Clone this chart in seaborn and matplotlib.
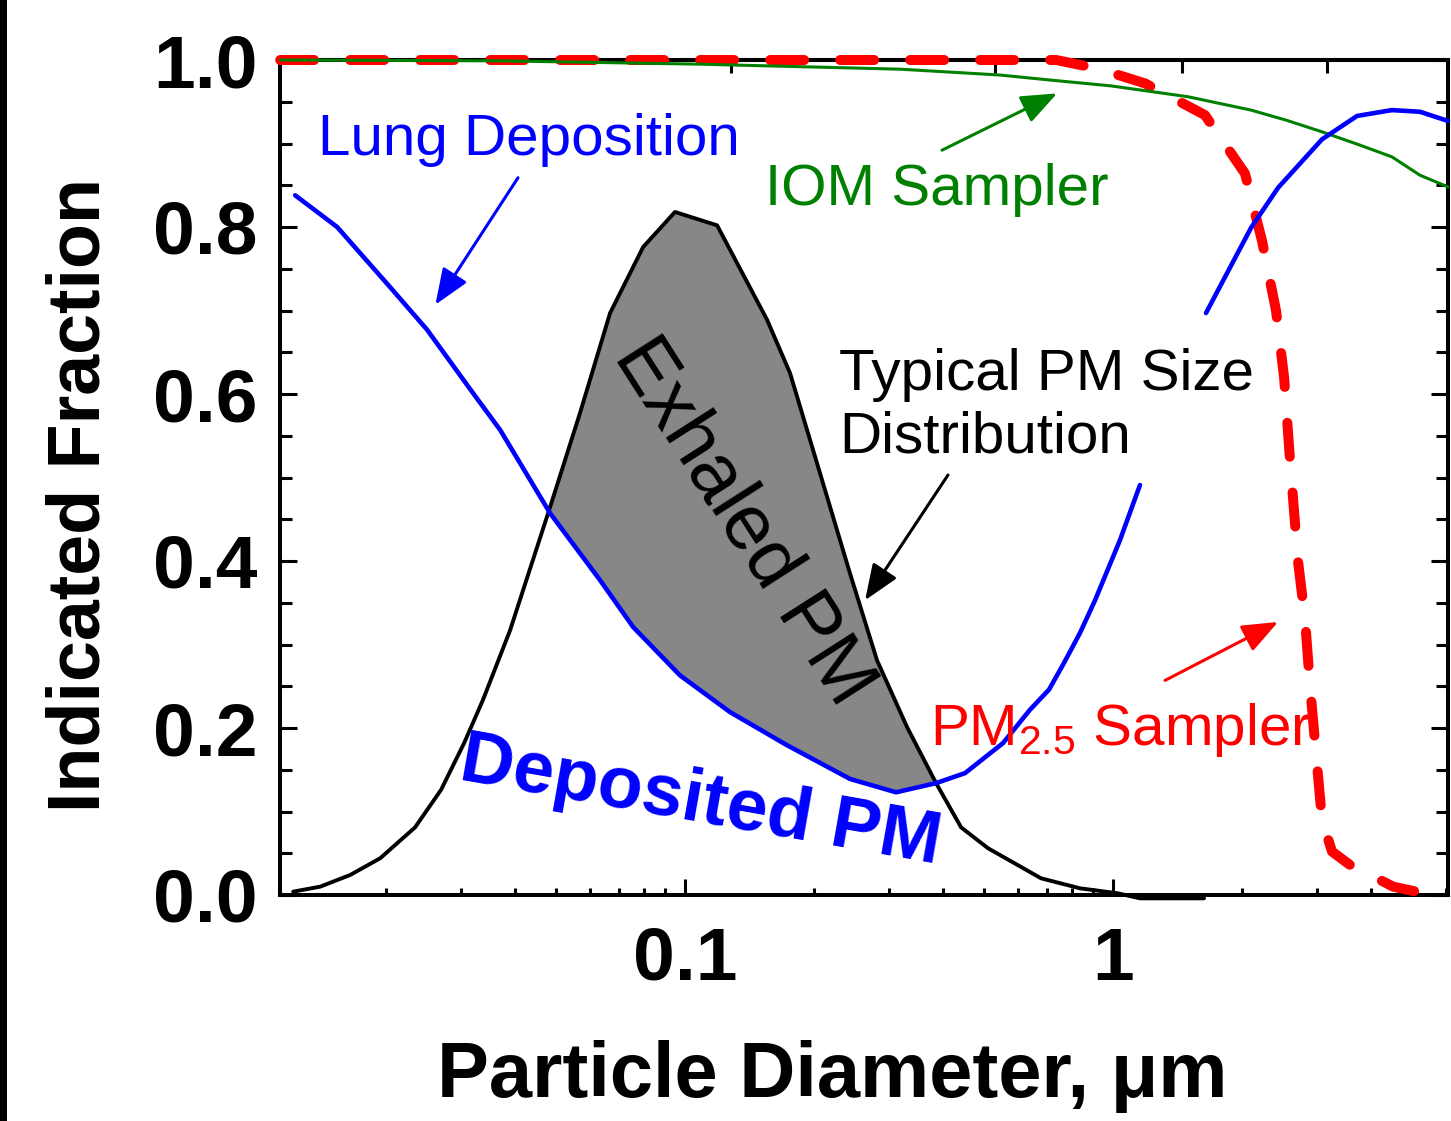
import numpy as np
import matplotlib
matplotlib.use("Agg")
import matplotlib.pyplot as plt
import seaborn as sns
from matplotlib.ticker import (FixedLocator, FixedFormatter, LogLocator,
                               NullFormatter, NullLocator, MultipleLocator)
from matplotlib.patches import Rectangle

# ---------------- data ----------------
# Typical PM size distribution (black curve)
pm_size_x = [0.01214, 0.01404, 0.0165, 0.01939, 0.02339, 0.02691, 0.03046, 0.03373,
             0.0390, 0.0484, 0.0568, 0.0668, 0.0798, 0.0947, 0.1188, 0.1554, 0.1759,
             0.2034, 0.2429, 0.2809, 0.3302, 0.3859, 0.4415, 0.5104, 0.6788, 0.8374,
             1.027, 1.156, 1.632]
pm_size_y = [0.004, 0.010, 0.024, 0.044, 0.081, 0.126, 0.182, 0.234,
             0.317, 0.465, 0.577, 0.697, 0.776, 0.818, 0.802, 0.689, 0.625,
             0.517, 0.385, 0.281, 0.201, 0.134, 0.081, 0.056, 0.020, 0.008,
             0.002, -0.004, -0.004]

# Lung deposition (blue curve) - fine-particle branch and coarse-particle branch
lung_x_fine = [0.01227, 0.01538, 0.02045, 0.02495, 0.03196, 0.03697, 0.0484, 0.0633,
               0.0756, 0.0973, 0.1274, 0.1722, 0.2429, 0.3111, 0.3859, 0.4511, 0.5534,
               0.6399, 0.7087, 0.7682, 0.8374, 0.9078, 1.038, 1.156]
lung_y_fine = [0.838, 0.800, 0.728, 0.677, 0.601, 0.557, 0.457, 0.377,
               0.321, 0.263, 0.219, 0.180, 0.139, 0.123, 0.134, 0.146, 0.182,
               0.222, 0.246, 0.278, 0.314, 0.353, 0.425, 0.491]
lung_x_coarse = [1.649, 2.101, 2.430, 3.078, 3.717, 4.484, 5.215, 6.062]
lung_y_coarse = [0.697, 0.799, 0.847, 0.905, 0.933, 0.940, 0.938, 0.927]

# IOM sampler (green curve)
iom_x = [0.01132, 0.0370, 0.0633, 0.1084, 0.1858, 0.3178, 0.5445, 0.7125, 0.989,
         1.497, 2.101, 2.536, 3.078, 3.777, 4.484, 5.215, 6.062]
iom_y = [1.000, 0.999, 0.997, 0.995, 0.992, 0.989, 0.982, 0.976, 0.969,
         0.956, 0.940, 0.928, 0.914, 0.898, 0.884, 0.862, 0.848]

# PM2.5 sampler (red dashed curve)
pm25_x = [0.01132, 0.736, 0.917, 1.188, 1.640, 2.034, 2.230, 2.403, 2.510, 2.592,
          2.705, 2.810, 2.886, 2.980, 3.078, 3.249, 3.579, 3.922, 4.514, 5.563]
pm25_y = [1.000, 1.000, 0.990, 0.972, 0.934, 0.864, 0.783, 0.700, 0.620, 0.520,
          0.400, 0.330, 0.250, 0.170, 0.090, 0.052, 0.036, 0.026, 0.010, 0.000]

# crossing points of the size distribution and lung deposition curves
exhaled_lo, exhaled_hi = 0.0484, 0.3859

x_ticks = [0.1, 1]
x_tick_labels = ["0.1", "1"]
y_ticks = [0.0, 0.2, 0.4, 0.6, 0.8, 1.0]
y_tick_labels = ["0.0", "0.2", "0.4", "0.6", "0.8", "1.0"]
top_ticks = [0.128, 0.53, 1.45, 3.16]

# ---------------- styling ----------------
sns.set_theme(style="white")
plt.rcParams["font.family"] = ["Liberation Sans", "DejaVu Sans"]
plt.rcParams["mathtext.fontset"] = "custom"
plt.rcParams["mathtext.rm"] = "Liberation Sans"
plt.rcParams["mathtext.it"] = "Liberation Sans:italic"
plt.rcParams["mathtext.bf"] = "Liberation Sans:bold"

W, H = 1451, 1121
fig = plt.figure(figsize=(W / 100, H / 100), dpi=100)
fig.patch.set_facecolor("white")
ax = fig.add_axes([280 / W, 1 - 895 / H, (1448 - 280) / W, (895 - 60) / H])
ax.set_facecolor("white")
ax.set_xscale("log")

# exhaled region (between size distribution and deposition curve)
bx, by = np.array(pm_size_x), np.array(pm_size_y)
lx, ly = np.array(lung_x_fine), np.array(lung_y_fine)
mb = (bx >= exhaled_lo) & (bx <= exhaled_hi)
ml = (lx >= exhaled_lo) & (lx <= exhaled_hi)
poly_x = np.concatenate([bx[mb], lx[ml][::-1]])
poly_y = np.concatenate([by[mb], ly[ml][::-1]])
ax.fill(poly_x, poly_y, color="#878787", lw=0, zorder=1.5)

sns.lineplot(x=pm25_x, y=pm25_y, ax=ax, color="#ff0000", lw=7.2, sort=False,
             estimator=None, zorder=3, clip_on=False)
red = ax.lines[-1]
red.set_linestyle((0, (3.4, 3.6)))
red.set_dash_capstyle("round")

sns.lineplot(x=iom_x, y=iom_y, ax=ax, color="#008000", lw=2.2, sort=False,
             estimator=None, zorder=3.5, clip_on=False)
sns.lineplot(x=pm_size_x, y=pm_size_y, ax=ax, color="black", lw=2.8, sort=False,
             estimator=None, zorder=4, clip_on=False)
sns.lineplot(x=lung_x_fine, y=lung_y_fine, ax=ax, color="#0000ff", lw=3.3, sort=False,
             estimator=None, zorder=4.5)
sns.lineplot(x=lung_x_coarse, y=lung_y_coarse, ax=ax, color="#0000ff", lw=3.3, sort=False,
             estimator=None, zorder=4.5, clip_on=False)

ax.set_xlim(0.01131, 6.063)
ax.set_ylim(0, 1)
ax.set_xlabel("")
ax.set_ylabel("")

# ticks
ax.xaxis.set_major_locator(FixedLocator(x_ticks))
ax.xaxis.set_major_formatter(FixedFormatter(x_tick_labels))
ax.xaxis.set_minor_locator(LogLocator(base=10, subs=np.arange(2, 10), numticks=30))
ax.xaxis.set_minor_formatter(NullFormatter())
ax.yaxis.set_major_locator(FixedLocator(y_ticks))
ax.yaxis.set_major_formatter(FixedFormatter(y_tick_labels))
ax.yaxis.set_minor_locator(MultipleLocator(0.05))

ax.tick_params(axis="both", which="both", direction="in", width=2.2, color="black")
ax.tick_params(axis="x", which="major", length=11.5, labelsize=54, pad=22,
               top=False, bottom=True)
ax.tick_params(axis="x", which="minor", length=5, top=False, bottom=True)
ax.tick_params(axis="y", which="major", length=12, labelsize=54, pad=16,
               left=True, right=True)
ax.tick_params(axis="y", which="minor", length=8.6, left=True, right=True)
for lab in ax.get_xticklabels() + ax.get_yticklabels():
    lab.set_fontweight("bold")
    lab.set_color("black")

for s in ax.spines.values():
    s.set_linewidth(2.9)
    s.set_color("black")
    s.set_zorder(2.5)

sec = ax.secondary_xaxis("top")
sec.xaxis.set_major_locator(FixedLocator(top_ticks))
sec.xaxis.set_minor_locator(NullLocator())
sec.tick_params(axis="x", which="both", direction="in", length=9.5, width=2.2,
                labeltop=False, color="black")
sec.spines["top"].set_linewidth(2.9)
sec.spines["top"].set_color("black")

# annotations
ax.text(0.01388, 0.886, "Lung Deposition", color="#0000ff", fontsize=42,
        ha="left", va="baseline", zorder=6)
ax.text(0.1538, 0.826, "IOM Sampler", color="#008000", fontsize=42,
        ha="left", va="baseline", zorder=6)
ax.text(0.2290, 0.5305, "Typical PM Size\nDistribution", color="black", fontsize=42,
        ha="left", va="baseline", linespacing=1.2, zorder=6)
ax.text(0.3737, 0.1796, r"PM$_{2.5}$ Sampler", color="#ff0000", fontsize=42,
        ha="left", va="baseline", zorder=6)
ax.text(0.1366, 0.447, "Exhaled PM", color="black", fontsize=56, rotation=-57.4,
        rotation_mode="anchor", ha="center", va="center", zorder=6)
ax.text(0.1067, 0.0886, "Deposited PM", color="#0000ff", fontsize=53, fontweight="bold",
        rotation=-10, rotation_mode="anchor", ha="center", va="baseline", zorder=6)

arrow_style = "-|>,head_length=0.55,head_width=0.22"
for tail, head, col in [((0.0407, 0.859), (0.0261, 0.707), "#0000ff"),
                        ((0.3985, 0.892), (0.740, 0.960), "#008000"),
                        ((0.4115, 0.503), (0.2634, 0.353), "black"),
                        ((1.323, 0.257), (2.43, 0.327), "#ff0000")]:
    ax.annotate("", xy=head, xytext=tail,
                arrowprops=dict(arrowstyle=arrow_style, mutation_scale=40, lw=2.2,
                                color=col, shrinkA=0, shrinkB=0), zorder=6)

# axis titles
fig.text(832 / W, 1 - 1097 / H, "Particle Diameter, μm", fontsize=56, fontweight="bold",
         ha="center", va="baseline", color="black")
fig.text(80 / W, 1 - 495 / H, "Indicated Fraction", fontsize=53, fontweight="bold",
         rotation=90, ha="center", va="center", color="black")

# black strip on the left edge
fig.add_artist(Rectangle((0, 0), 7 / W, 1, transform=fig.transFigure,
                         color="black", lw=0, zorder=10))

fig.savefig("out.png", dpi=100)
